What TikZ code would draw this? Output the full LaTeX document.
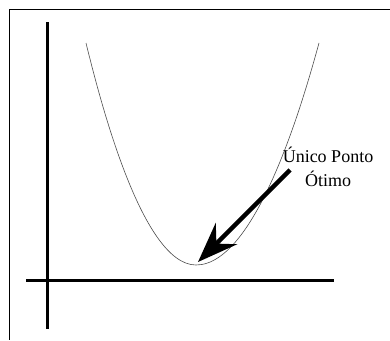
\documentclass[tikz,border=0pt]{standalone}
\usepackage{fontspec}
\setmainfont{Liberation Serif}
\usetikzlibrary{arrows.meta, positioning}

\begin{document}
\begin{tikzpicture}[x=1pt, y=-1pt,
  axis/.style={draw, line width=3pt},
  curve/.style={draw, black!70, line width=0.6pt},
  pointer/.style={draw, line width=4.5pt, -{Stealth[length=40pt, width=30pt, inset=14pt]}},
  label/.style={align=center, font=\fontsize{18}{24}\selectfont}]
\useasboundingbox (0,0) rectangle (390,340);
\draw[line width=1pt] (390,9) -- (9,9) -- (9,340);
% axes
\draw[axis] (47,22) -- (47,329);
\draw[axis] (26,280) -- (334,280);
% the curve
\draw[curve] (86,43) parabola bend (196,265) (319,43);
\node[label] (Otimo) at (328,167) {Único Ponto\\Ótimo};
\coordinate (Tail) at (290,170);
\coordinate (Tip) at (198,262);
\draw[pointer] (Tail) -- (Tip);
\end{tikzpicture}
\end{document}
